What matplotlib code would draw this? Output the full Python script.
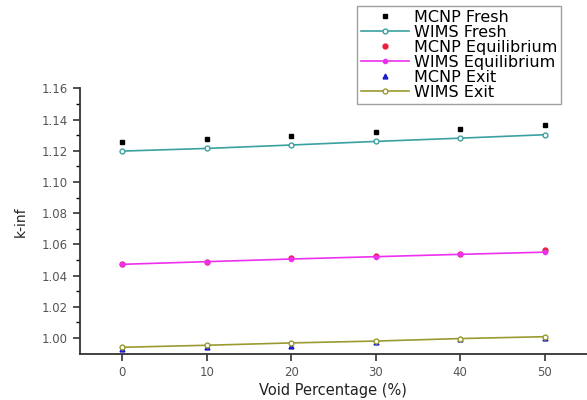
import numpy as np
from matplotlib import pyplot as plt

plt.rcParams['font.family'] = ['DejaVu Sans']

void = [0, 10, 20, 30, 40, 50]
mcnp_fresh = [1.1254, 1.1275, 1.1294, 1.1322, 1.1337, 1.1363]
wims_fresh = [1.1198, 1.1215, 1.1237, 1.1260, 1.1281, 1.1303]
mcnp_eq = [1.0475, 1.0490, 1.0511, 1.0524, 1.0540, 1.0561]
wims_eq = [1.0472, 1.0489, 1.0506, 1.0521, 1.0536, 1.0550]
mcnp_exit = [0.9929, 0.9940, 0.9950, 0.9973, 0.9990, 1.0002]
wims_exit = [0.9940, 0.9953, 0.9968, 0.9980, 0.9996, 1.0008]

fig = plt.figure(figsize=(5.87, 4.0), dpi=100)
ax = fig.add_axes([0.136, 0.115, 0.864, 0.664])

ax.plot(void, mcnp_fresh, ls='none', marker='s', ms=3.5, color='black', label='MCNP Fresh')
ax.plot(void, wims_fresh, color='#3aa0a0', lw=1.2, marker='o', ms=3.5, mfc='white', label='WIMS Fresh')
ax.plot(void, mcnp_eq, ls='none', marker='o', ms=3.5, color='#e8203a', label='MCNP Equilibrium')
ax.plot(void, wims_eq, color='#ee30ee', lw=1.2, marker='o', ms=3, label='WIMS Equilibrium')
ax.plot(void, mcnp_exit, ls='none', marker='^', ms=3.5, color='#1a1ad0', label='MCNP Exit')
ax.plot(void, wims_exit, color='#9a9a30', lw=1.2, marker='o', ms=3.5, mfc='white', label='WIMS Exit')

ax.set_xlim(-5, 55)
ax.set_ylim(0.9897, 1.16)
ax.set_xticks(void)
ax.set_yticks(np.arange(1.00, 1.161, 0.02))
ax.set_yticks(np.arange(1.00, 1.161, 0.01), minor=True)
ax.yaxis.set_major_formatter(plt.FormatStrFormatter('%.2f'))
ax.tick_params(direction='out', length=5, width=1.2, labelsize=8.5, colors='#333333', labelcolor='#555555')
ax.tick_params(which='minor', direction='out', length=3, width=1.0)
ax.spines['top'].set_visible(False)
ax.spines['right'].set_visible(False)
ax.spines['left'].set_linewidth(1.3)
ax.spines['bottom'].set_linewidth(1.3)
ax.spines['left'].set_color('#333333')
ax.spines['bottom'].set_color('#333333')

ax.set_xlabel('Void Percentage (%)', fontsize=10.5, color='#222222', labelpad=3)
ax.set_ylabel('k-inf', fontsize=10, color='#222222', labelpad=10)

leg = fig.legend(loc='upper left', bbox_to_anchor=(0.608, 0.985), fontsize=11.5,
                 frameon=True, fancybox=False, edgecolor='#888888',
                 handlelength=3.0, handletextpad=0.3, borderpad=0.25,
                 labelspacing=0.0, borderaxespad=0)
leg.get_frame().set_linewidth(1.0)

fig.savefig('out.png', dpi=100)
